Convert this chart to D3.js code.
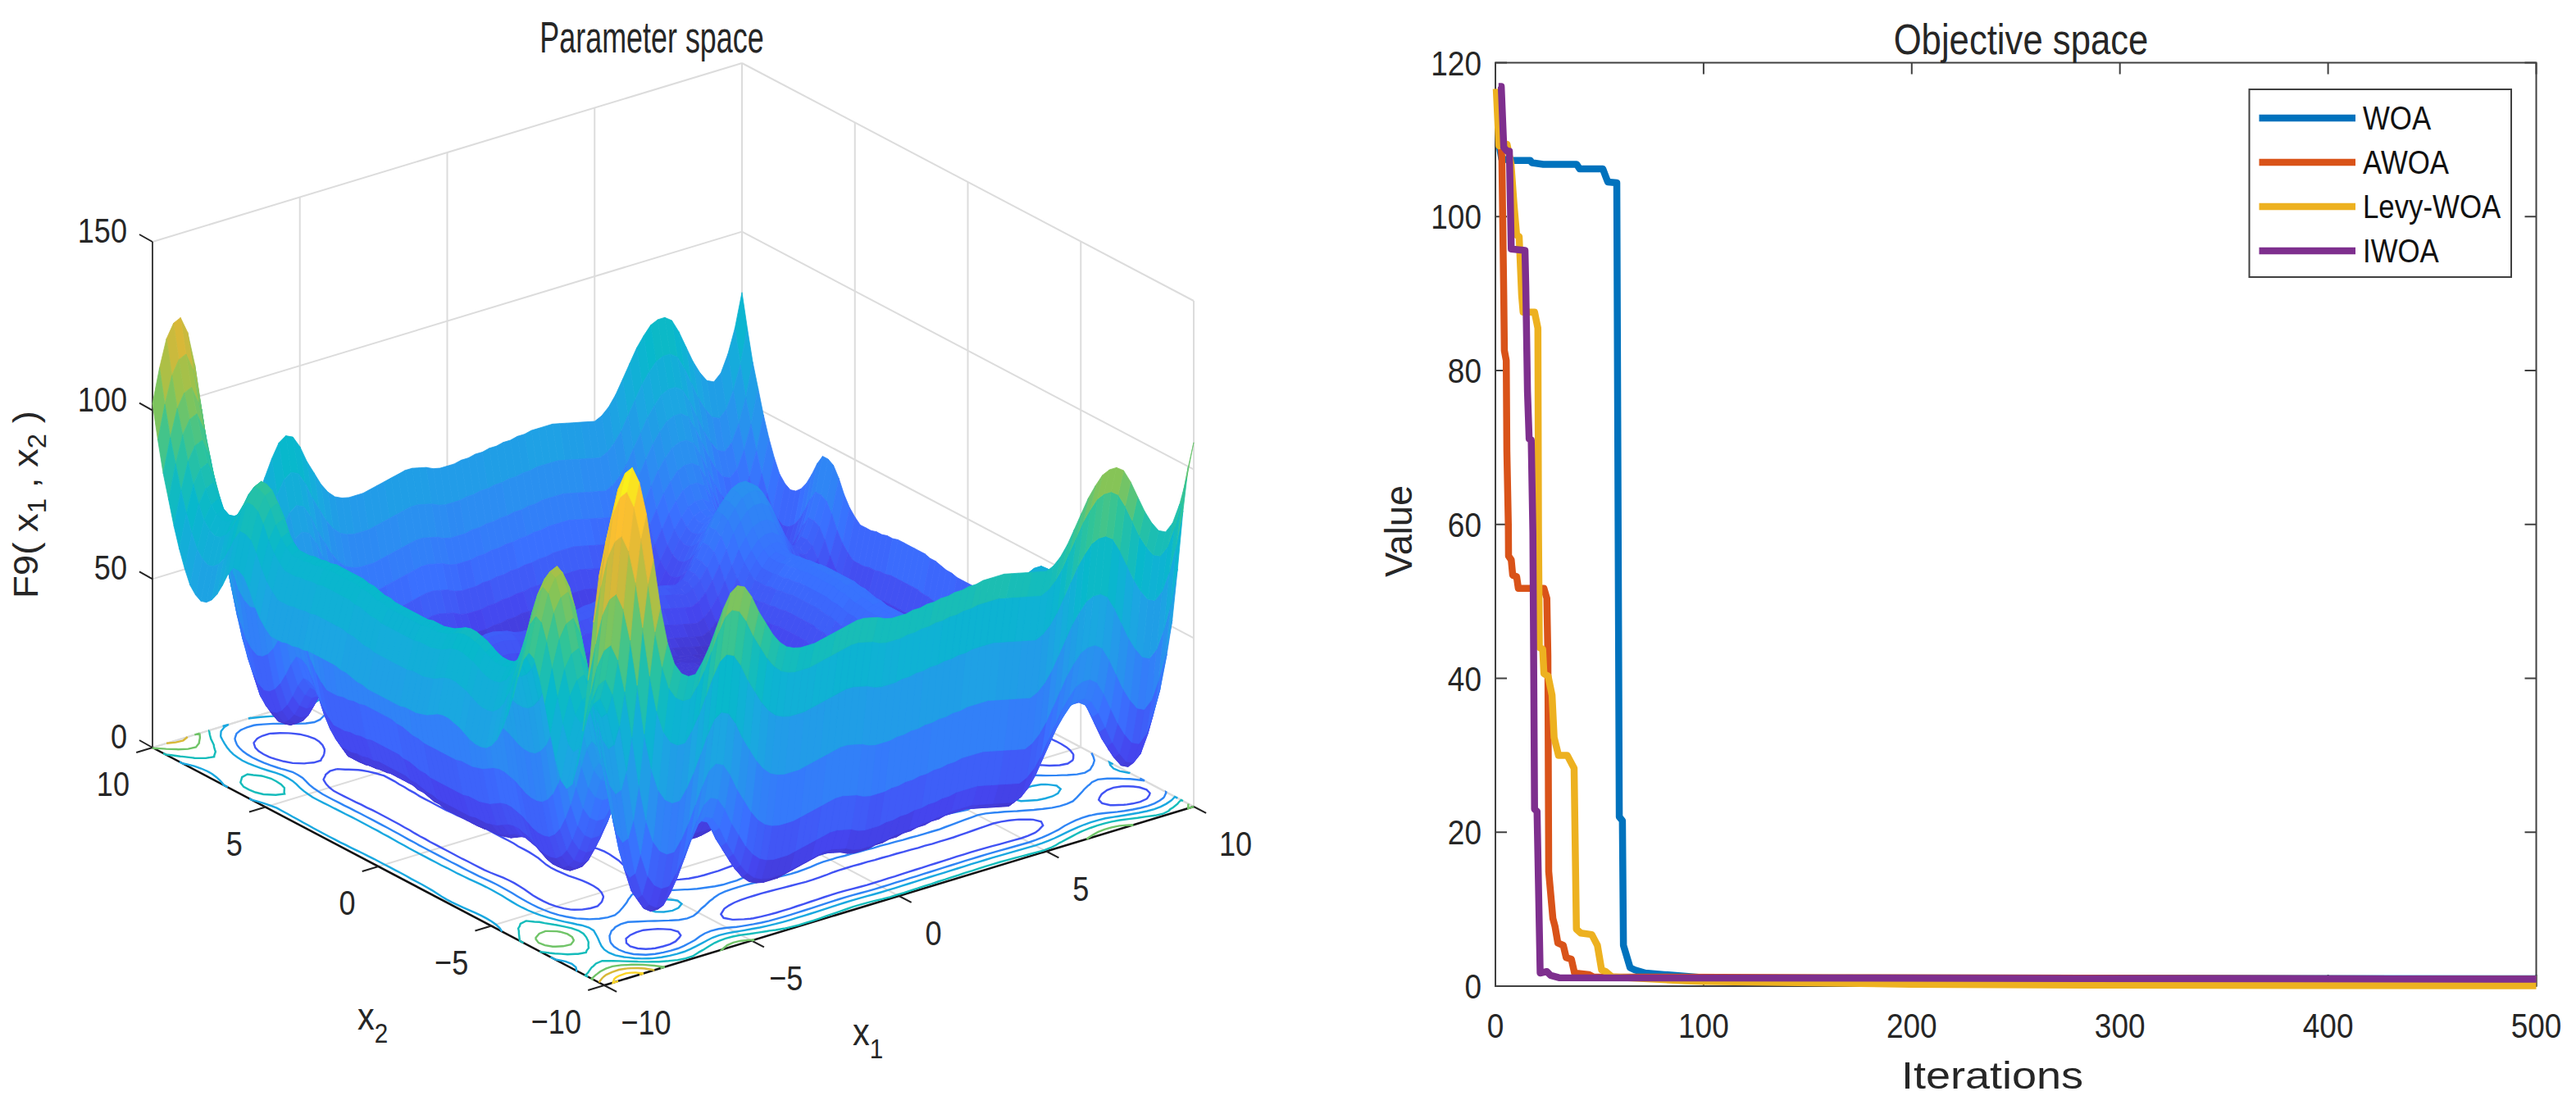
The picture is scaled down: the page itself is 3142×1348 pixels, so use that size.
<!DOCTYPE html>
<html>
<head>
<meta charset="utf-8">
<script src="https://cdn.jsdelivr.net/npm/d3@7"></script>
<style>
  html, body { margin: 0; background: #fff; }
  text { font-family: "Liberation Sans", Arial, sans-serif; fill: #262626; }
</style>
</head>
<body>
<div id="chart-area"></div>
<script>
// left panel: surface height read from the picture as two edge profiles,
// one value every 0.25 along x1 and along x2 (the surface is their sum)
const x1Profile = [
  48, 58, 66, 70,
  71, 66, 56, 42,
  27, 16, 9, 5.5,
  4, 4, 7, 11,
  16, 21, 25, 26.5,
  25.5, 22, 17, 13,
  9, 6, 4, 3,
  2.5, 2.5, 2.5, 3,
  3.5, 4, 4.5, 5,
  5.5, 5.5, 5, 4.5,
  3.5, 3, 3, 3,
  3.5, 3.5, 4, 4,
  4.5, 4.5, 5, 5,
  5.5, 5.5, 6, 6,
  6, 6, 5.5, 5,
  4.5, 4, 3.5, 3,
  4, 6, 9, 13,
  17, 21, 24, 26.5,
  27.5, 27.5, 26, 22,
  17, 12, 8, 5,
  4, 6, 11, 18,
  28
];
const x2Profile = [
  80, 72, 58, 40,
  24, 13, 6.5, 4.5,
  6, 11, 18, 26,
  33, 38, 39, 36,
  30, 23, 17, 12,
  8, 5.5, 4, 3.5,
  3.5, 4, 5, 6,
  6.5, 7, 7, 6.5,
  5.5, 4.5, 4, 3.5,
  3.5, 3.5, 3, 3,
  3, 3, 3, 3,
  3, 3.5, 3.5, 4,
  4.5, 4.5, 5, 5,
  5, 5, 5, 5,
  4.5, 4.5, 4, 4,
  3.5, 3.5, 3.5, 5,
  7, 10, 14, 17,
  18, 18, 15, 11,
  7.5, 5, 3.5, 3,
  4, 6, 10, 15,
  21, 28, 35, 44,
  54
];
const contourLevels = [20, 40, 60, 80, 100, 120, 140];
const floorTicks = [-10, -5, 0, 5, 10];
const zTicks = [0, 50, 100, 150];
const parulaStops = ["#3e26a8", "#4545ee", "#3a70ff", "#2a90f0", "#1aa8e0", "#08b8cc", "#30c498", "#90c450", "#d8b838", "#fcc030", "#f9fb15"];

// right panel: convergence curves, [iteration, value]
const seriesNames = ["WOA", "AWOA", "Levy-WOA", "IWOA"];
const seriesColors = ["#0072bd", "#d95319", "#edb120", "#7e2f8e"];
const woaIter = [1, 2, 3, 8.3, 16.8, 17.5, 23, 39, 40.5, 51.6, 53, 54, 58.3, 59.5, 61, 61.5, 64.7, 67, 72, 81, 100, 500];
const woaVal = [116, 109, 107.5, 107.3, 107.3, 107, 106.8, 106.8, 106.2, 106.2, 105.2, 104.5, 104.4, 22, 21.5, 5.3, 2.4, 2.1, 1.7, 1.5, 1.1, 0.95];
const awoaIter = [1, 2, 3.1, 4, 4.3, 5.2, 5.5, 6.2, 6.3, 7.6, 8.3, 10.2, 11, 23.3, 24.7, 25.2, 25.6, 27.6, 28.6, 30, 32.6, 34, 36.5, 38, 45, 47, 160, 500];
const awoaVal = [116, 112, 107.6, 89.8, 82.6, 81.3, 69.5, 60, 55.9, 55.4, 53.4, 53.2, 51.7, 51.7, 50.4, 42.9, 14.9, 8.8, 7.8, 5.6, 5.3, 3.7, 3.5, 1.7, 1.5, 1.2, 1.1, 0.9];
const levyIter = [0.4, 1.7, 5.6, 7.5, 9, 10.2, 11.4, 12.6, 13.3, 18.8, 20.4, 20.7, 21.1, 22.7, 23.3, 25.3, 27.2, 28.2, 30.3, 34.5, 37.8, 38.9, 41, 46.3, 49, 51, 53, 56, 91, 100, 200, 300, 500];
const levyVal = [116.6, 109.2, 109.4, 106.8, 101.3, 97.6, 97.4, 89.8, 87.6, 87.6, 85.5, 58.9, 44, 43.8, 40.6, 40.3, 37.8, 32.3, 30, 30, 28.3, 7.4, 6.9, 6.7, 5.3, 2.1, 1.9, 1.2, 0.7, 0.6, 0.25, 0.12, 0.05];
const iwoaIter = [1.5, 2.8, 4, 5.6, 6.7, 7.6, 14.2, 14.6, 15.4, 16.2, 17.2, 18, 18.8, 20, 21.5, 24.7, 26.5, 30.5, 500];
const iwoaVal = [116.9, 116.9, 109, 108.5, 108.5, 95.8, 95.6, 90.8, 77.3, 71.1, 71, 58.9, 23, 22.7, 1.7, 1.9, 1.4, 1.1, 0.9];
const xTicks = [0, 100, 200, 300, 400, 500];
const yTicks = [0, 20, 40, 60, 80, 100, 120];

const W = 3142, H = 1348;
const svg = d3.select("#chart-area").append("svg")
  .attr("width", W).attr("height", H)
  .style("display", "block");

// text in the picture is squeezed, so each label has its own x scale
function label(g, x, y, txt, size, sx, anchor, rot) {
  return g.append("text")
    .attr("transform", `translate(${x},${y}) rotate(${rot || 0}) scale(${sx},1)`)
    .attr("font-size", size)
    .attr("text-anchor", anchor || "middle")
    .text(txt);
}

// ---------- left panel ----------
const left3d = svg.append("g");
const cFront = [737, 1202], cRight = [1456, 984], cLeft = [186, 912];
const s1 = d3.scaleLinear().domain([-10, 10]).range([0, 1]);
const s2 = d3.scaleLinear().domain([-10, 10]).range([0, 1]);
const sz = d3.scaleLinear().domain([0, 150]).range([0, 617]);

function project(x1, x2, z) {
  const a = s1(x1), b = s2(x2);
  return [
    cFront[0] + a * (cRight[0] - cFront[0]) + b * (cLeft[0] - cFront[0]),
    cFront[1] + a * (cRight[1] - cFront[1]) + b * (cLeft[1] - cFront[1]) - sz(z)
  ];
}
const seg = (g, p, q, col, w) => g.append("line")
  .attr("x1", p[0]).attr("y1", p[1]).attr("x2", q[0]).attr("y2", q[1])
  .attr("stroke", col).attr("stroke-width", w);

const gridCol = "#dcdcdc";
// floor grid
floorTicks.forEach(t => {
  seg(left3d, project(t, -10, 0), project(t, 10, 0), gridCol, 2);
  seg(left3d, project(-10, t, 0), project(10, t, 0), gridCol, 2);
});
// back walls
zTicks.forEach(z => {
  seg(left3d, project(-10, 10, z), project(10, 10, z), gridCol, 2);
  seg(left3d, project(10, 10, z), project(10, -10, z), gridCol, 2);
});
floorTicks.forEach(t => {
  seg(left3d, project(t, 10, 0), project(t, 10, 150), gridCol, 2);
  seg(left3d, project(10, t, 0), project(10, t, 150), gridCol, 2);
});
// axes
seg(left3d, project(-10, 10, 0), project(-10, 10, 150), "#404040", 2);
seg(left3d, project(-10, -10, 0), project(-10, 10, 0), "#111", 2.5);
seg(left3d, project(-10, -10, 0), project(10, -10, 0), "#111", 2.5);
floorTicks.forEach(t => {
  seg(left3d, project(-10, t, 0), project(-10.55, t, 0), "#222", 2);
  seg(left3d, project(t, -10, 0), project(t, -10.55, 0), "#222", 2);
  const p2 = project(-10, t, 0), p1 = project(t, -10, 0);
  const txt = String(t).replace("-", "\u2212");
  label(left3d, p2[0] - 28, p2[1] + 59, txt, 43, 0.84, "end");
  label(left3d, p1[0] + (Math.abs(t) === 10 ? 51 : 42), p1[1] + 60, txt, 43, 0.84, "middle");
});
zTicks.forEach(z => {
  const p = project(-10, 10, z);
  seg(left3d, p, [p[0] - 16, p[1] - 9], "#222", 2);
  label(left3d, 155, p[1] + 1, String(z), 43, 0.84, "end");
});

// surface table, built from the two profiles
const n1 = x1Profile.length, n2 = x2Profile.length;
const x1Grid = d3.range(n1).map(i => -10 + 20 * i / (n1 - 1));
const x2Grid = d3.range(n2).map(j => -10 + 20 * j / (n2 - 1));
const zAt = (i, j) => x1Profile[i] + x2Profile[j];

const parula = d3.scaleLinear()
  .domain(parulaStops.map((c, i) => 150 * i / (parulaStops.length - 1)))
  .range(parulaStops)
  .interpolate(d3.interpolateRgb)
  .clamp(true);
const bandColor = z => parula(Math.round(z / 1.5) * 1.5);

// contour lines on the floor
const zFlat = [];
for (let j = 0; j < n2; j++) for (let i = 0; i < n1; i++) zFlat.push(zAt(i, j));
const contourGen = d3.contours().size([n1, n2]).thresholds(contourLevels);
const floorPt = c => {
  const x1 = Math.max(-10, Math.min(10, -10 + 20 * (c[0] - 0.5) / (n1 - 1)));
  const x2 = Math.max(-10, Math.min(10, -10 + 20 * (c[1] - 0.5) / (n2 - 1)));
  return project(x1, x2, 0);
};
const onEdge = c => c[0] <= 0 || c[0] >= n1 || c[1] <= 0 || c[1] >= n2;
contourGen(zFlat).forEach(level => {
  let d = "";
  level.coordinates.forEach(poly => poly.forEach(ring => {
    ring.forEach((c, k) => {
      const p = floorPt(c);
      const skip = k === 0 || (onEdge(c) && onEdge(ring[k - 1]));
      d += (skip ? "M" : "L") + p[0].toFixed(1) + "," + p[1].toFixed(1);
    });
  }));
  left3d.append("path").attr("d", d)
    .attr("fill", "none")
    .attr("stroke", parula(level.value))
    .attr("stroke-width", 2.4);
});

// surface, far cells first
const cells = [];
for (let i = n1 - 2; i >= 0; i--) for (let j = n2 - 2; j >= 0; j--) cells.push([i, j]);
const cellColor = ([i, j]) => bandColor((zAt(i, j) + zAt(i + 1, j) + zAt(i + 1, j + 1) + zAt(i, j + 1)) / 4);
left3d.append("g").selectAll("path").data(cells).join("path")
  .attr("d", ([i, j]) => {
    const pts = [
      project(x1Grid[i], x2Grid[j], zAt(i, j)),
      project(x1Grid[i + 1], x2Grid[j], zAt(i + 1, j)),
      project(x1Grid[i + 1], x2Grid[j + 1], zAt(i + 1, j + 1)),
      project(x1Grid[i], x2Grid[j + 1], zAt(i, j + 1))
    ];
    return "M" + pts.map(p => p[0].toFixed(1) + "," + p[1].toFixed(1)).join("L") + "Z";
  })
  .attr("fill", cellColor)
  .attr("stroke", cellColor)
  .attr("stroke-width", 0.8);

label(svg, 795, 64, "Parameter space", 54, 0.665);

// axis names with subscripts
function subLabel(x, y, sub) {
  const t = label(svg, x, y, "", 46, 0.9, "start");
  t.append("tspan").text("x");
  t.append("tspan").attr("font-size", 33).attr("dy", 16).text(sub);
}
subLabel(436, 1256, "2");
subLabel(1040, 1275, "1");

const zName = label(svg, 46, 730, "", 43, 1.06, "start", -90);
zName.append("tspan").text("F9( x");
zName.append("tspan").attr("font-size", 31).attr("dy", 10).text("1");
zName.append("tspan").attr("dy", -10).text(" , x");
zName.append("tspan").attr("font-size", 31).attr("dy", 10).text("2");
zName.append("tspan").attr("dy", -10).text(" )");

// ---------- right panel ----------
const xScale = d3.scaleLinear().domain([0, 500]).range([1824, 3093.5]);
const yScale = d3.scaleLinear().domain([0, 120]).range([1203, 76.5]);
const right = svg.append("g");

right.append("rect")
  .attr("x", xScale(0)).attr("y", yScale(120))
  .attr("width", xScale(500) - xScale(0)).attr("height", yScale(0) - yScale(120))
  .attr("fill", "none").attr("stroke", "#404040").attr("stroke-width", 2);

xTicks.forEach(t => {
  seg(right, [xScale(t), yScale(0)], [xScale(t), yScale(0) - 14], "#404040", 2);
  seg(right, [xScale(t), yScale(120)], [xScale(t), yScale(120) + 14], "#404040", 2);
  label(right, xScale(t), 1266, String(t), 43, 0.86);
});
yTicks.forEach(t => {
  seg(right, [xScale(0), yScale(t)], [xScale(0) + 14, yScale(t)], "#404040", 2);
  seg(right, [xScale(500), yScale(t)], [xScale(500) - 14, yScale(t)], "#404040", 2);
  label(right, 1807, yScale(t) + 15, String(t), 43, 0.86, "end");
});

const seriesIter = [woaIter, awoaIter, levyIter, iwoaIter];
const seriesVal = [woaVal, awoaVal, levyVal, iwoaVal];
const line = d3.line().x(d => xScale(d[0])).y(d => yScale(d[1]));
seriesNames.forEach((name, k) => {
  right.append("path")
    .attr("d", line(d3.zip(seriesIter[k], seriesVal[k])))
    .attr("fill", "none")
    .attr("stroke", seriesColors[k])
    .attr("stroke-width", 8.5)
    .attr("stroke-linejoin", "round");
});

label(svg, 2465, 66, "Objective space", 52, 0.84);
label(svg, 2430, 1328, "Iterations", 47, 1.15);
label(svg, 1722, 648, "Value", 46, 0.98, "middle", -90);

// legend
right.append("rect")
  .attr("x", 2743.5).attr("y", 109).attr("width", 319.5).attr("height", 229)
  .attr("fill", "#fff").attr("stroke", "#404040").attr("stroke-width", 2);
const legendY = d3.scalePoint().domain(seriesNames).range([144, 306]);
seriesNames.forEach((name, k) => {
  seg(right, [2755.5, legendY(name)], [2873, legendY(name)], seriesColors[k], 8.5);
  label(right, 2882, legendY(name) + 14, name, 40, 0.87, "start").style("fill", "#111");
});
</script>
</body>
</html>
